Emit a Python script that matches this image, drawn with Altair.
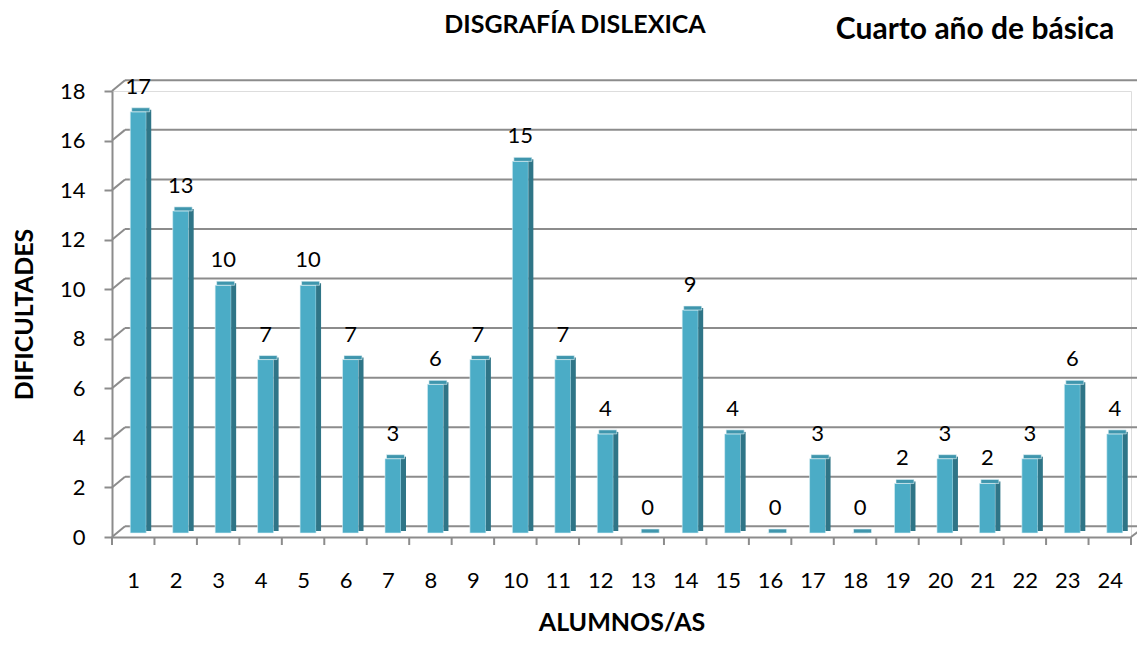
import altair as alt
import pandas as pd

alumnos = list(range(1, 25))
dificultades = [17, 13, 10, 7, 10, 7, 3, 6, 7, 15, 7, 4, 0, 9, 4, 0, 3, 0, 2, 3, 2, 3, 6, 4]
y_ticks = [0, 2, 4, 6, 8, 10, 12, 14, 16, 18]

W, H = 1019, 446
DX, DY = 13, -10.7      # back-wall depth offset
BX, BY = 5, -4          # bar depth offset
FONT = "Lato"
GRAY = "#8c8c8c"

df = pd.DataFrame({"alumno": alumnos, "valor": dificultades})
grid_df = pd.DataFrame({"valor": y_ticks})
bounds_df = pd.DataFrame({"alumno": [a - 0.5 for a in alumnos] + [alumnos[-1] + 0.5]})

xs = alt.Scale(domain=[0.5, 24.5], nice=False, zero=False, padding=0)
ys = alt.Scale(domain=[0, 18], nice=False)

x_axis = alt.Axis(values=alumnos, format="d", ticks=False, domain=True,
                  domainColor=GRAY, domainWidth=2,
                  labelFont=FONT, labelFontSize=22, labelColor="#000",
                  labelPadding=33, grid=False,
                  title="ALUMNOS/AS", titleFont=FONT, titleFontSize=25,
                  titleFontWeight="bold", titleColor="#000", titlePadding=19)
y_axis = alt.Axis(values=y_ticks, grid=False, domainColor=GRAY, domainWidth=2,
                  tickColor=GRAY, tickWidth=2, tickSize=8,
                  labelFont=FONT, labelFontSize=22, labelColor="#000",
                  labelPadding=19,
                  title="DIFICULTADES", titleFont=FONT, titleFontSize=25,
                  titleFontWeight="bold", titleColor="#000", titlePadding=22)

X = alt.X("alumno:Q", scale=xs, axis=x_axis)
Y = alt.Y("valor:Q", scale=ys, axis=y_axis)

base = alt.Chart(df)

# back wall gridlines
grid = alt.Chart(grid_df).mark_rule(color=GRAY, strokeWidth=2, yOffset=DY).encode(
    y=Y, x=alt.value(DX), x2=alt.value(W + DX + 1),
)
# diagonal connectors on left wall
diag = alt.Chart(grid_df).mark_rule(color=GRAY, strokeWidth=2, y2Offset=DY).encode(
    y=Y, y2="valor:Q", x=alt.value(0), x2=alt.value(DX),
)
# floor right edge diagonal
floor_r = alt.Chart(pd.DataFrame({"valor": [0]})).mark_rule(color=GRAY, strokeWidth=2, y2Offset=DY).encode(
    y=Y, y2="valor:Q", x=alt.value(W), x2=alt.value(W + DX + 1),
)
# x ticks at category boundaries
xticks = alt.Chart(bounds_df).mark_rule(color=GRAY, strokeWidth=2).encode(
    x=X, y=alt.value(H), y2=alt.value(H + 8),
)

# bar front face
face = base.mark_bar(color="#4bacc6", size=16, xOffset=BX, yOffset=BY, y2Offset=BY,
                     stroke="#dff1f6", strokeWidth=0.6).encode(
    x=X, y=Y, y2=alt.datum(0),
)
# side face
side = base.mark_bar(color="#2f7587", size=5, xOffset=BX + 10.5, yOffset=BY - 2, y2Offset=BY - 2).encode(
    x=X, y=Y, y2=alt.datum(0),
)
# top face
top = base.mark_bar(color="#3f96ad", size=18, xOffset=BX + 2.5, yOffset=BY, y2Offset=BY - 4,
                    stroke="#e8f5f8", strokeWidth=0.6).encode(
    x=X, y=Y, y2="valor:Q",
)
labels = base.mark_text(font=FONT, fontSize=22, color="#000", baseline="alphabetic",
                        xOffset=BX, yOffset=-22).encode(
    x=X, y=Y, text="valor:Q",
)

t1 = alt.Chart(pd.DataFrame({"t": ["DISGRAFÍA DISLEXICA"]})).mark_text(
    font=FONT, fontSize=25, fontWeight="bold", color="#000",
    align="center", baseline="alphabetic").encode(
    x=alt.value(463), y=alt.value(-58), text="t:N")
t2 = alt.Chart(pd.DataFrame({"t": ["Cuarto año de básica"]})).mark_text(
    font=FONT, fontSize=30, fontWeight="bold", color="#000", align="center",
    baseline="alphabetic").encode(
    x=alt.value(863), y=alt.value(-52), text="t:N")

chart = alt.layer(grid, diag, floor_r, xticks, face, side, top, labels, t1, t2).properties(
    width=W, height=H,
    autosize=alt.AutoSizeParams(type="none"),
    padding={"left": 104, "top": 83, "right": 6, "bottom": 99},
).configure_view(stroke=None).configure(background="white")

chart.save("out.html", embed_options={"renderer": "svg", "actions": False})
